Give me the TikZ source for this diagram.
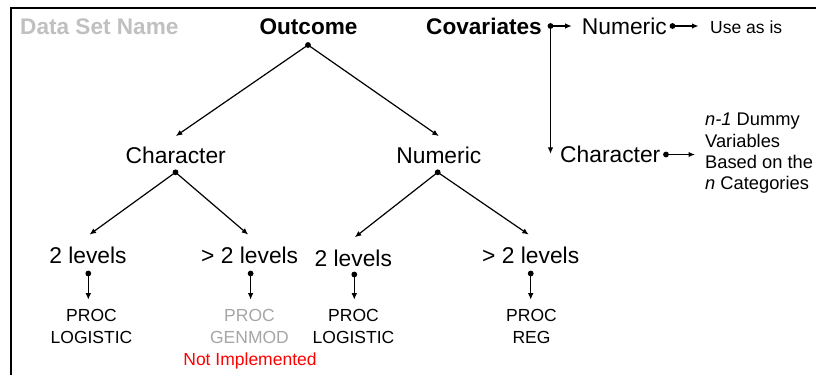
\documentclass[tikz,border=0pt]{standalone}
\usepackage{fontspec}
\setmainfont{Liberation Sans}
\usetikzlibrary{arrows.meta}
\definecolor{lightgr}{HTML}{C0C0C0}
\definecolor{midgr}{HTML}{A6A6A6}
\definecolor{redtxt}{HTML}{FF0000}
\tikzset{
  hb/.style={inner sep=0pt, font=\fontsize{22.6}{27}\selectfont\bfseries},
  hr/.style={inner sep=0pt, font=\fontsize{22.8}{27}\selectfont},
  sm/.style={inner sep=0pt, font=\fontsize{17.5}{21.6}\selectfont, align=center},
  smdummy/.style={inner sep=0pt, font=\fontsize{18.3}{21.4}\selectfont, align=left},
  arr/.style={line width=1.2pt, -{Latex[length=6.5pt,width=5.5pt]}},
  dotc/.style={fill=black},
}
\begin{document}
\begin{tikzpicture}[x=1pt,y=-1pt]
\useasboundingbox (0,0) rectangle (816,375);
% frame
\draw[line width=2pt] (10.5,375) -- (10.5,8.3) -- (816,8.3);

% headings
\node[hb, text=lightgr, anchor=base west] (dsn) at (20,34.3) {Data Set Name};
\node[hb, anchor=base] (outcome) at (308.5,34.5) {Outcome};
\node[hb, anchor=base west] (cov) at (426,34.5) {Covariates};
\node[hr, anchor=base west] (cnum) at (581.7,34.5) {Numeric};
\node[sm, anchor=base west] (asis) at (710,33.3) {Use as is};
\node[hr, anchor=base west] (cchar) at (560,162) {Character};
\node[smdummy, anchor=north west] (dummy) at (705,113) {\textit{n-1} Dummy\\Variables\\Based on the\\\textit{n} Categories};

% tree nodes
\node[hr, anchor=base] (char) at (175.8,163.3) {Character};
\node[hr, anchor=base] (num) at (438.8,163.3) {Numeric};
\node[hr, anchor=base] (lvA) at (88,263.3) {2 levels};
\node[hr, anchor=base] (lvB) at (249.7,263.3) {> 2 levels};
\node[hr, anchor=base] (lvC) at (353.3,266) {2 levels};
\node[hr, anchor=base] (lvD) at (530.7,263.3) {> 2 levels};

\node[sm, anchor=north] (pA) at (91.5,309.2) {PROC\\LOGISTIC};
\node[sm, anchor=north, text=midgr] (pB) at (249.5,309.2) {PROC\\GENMOD};
\node[sm, anchor=base, text=redtxt] (ni) at (250,365) {Not Implemented};
\node[sm, anchor=north] (pC) at (353.5,309.2) {PROC\\LOGISTIC};
\node[sm, anchor=north] (pD) at (531.5,309.2) {PROC\\REG};

% dot positions
\coordinate (od) at (308,45);
\coordinate (chd) at (175.5,172.3);
\coordinate (nmd) at (437.7,172.3);
\coordinate (dA) at (88.3,273.5);
\coordinate (dB) at (250.6,273.5);
\coordinate (dC) at (354.3,274.5);
\coordinate (dD) at (530.7,273.5);
\coordinate (covd) at (550.5,26);
\coordinate (cnd) at (672.5,26);
\coordinate (ccd) at (666,154.5);

\foreach \p in {od,chd,nmd,dA,dB,dC,dD,covd,cnd,ccd}
  \fill[dotc] (\p) circle (2.9pt);

% tree connectors
\draw[arr] (od) -- ([yshift=10.5pt]char.north);
\draw[arr] (od) -- ([yshift=10.5pt]num.north);
\draw[arr] (chd) -- ([yshift=12pt,xshift=1.5pt]lvA.north);
\draw[arr] (chd) -- ([yshift=12pt,xshift=-1.5pt]lvB.north);
\draw[arr] (nmd) -- ([yshift=12pt,xshift=1.5pt]lvC.north);
\draw[arr] (nmd) -- ([yshift=12pt,xshift=-2pt]lvD.north);

\draw[arr, shorten >=9.5pt] (dA) -- (dA |- pA.north);
\draw[arr, shorten >=9.5pt] (dB) -- (dB |- pB.north);
\draw[arr, shorten >=9.5pt] (dC) -- (dC |- pC.north);
\draw[arr, shorten >=9.5pt] (dD) -- (dD |- pD.north);

% covariates connectors
\draw[arr, shorten >=10pt] (covd) -- (covd -| cnum.west);
\draw[arr] (covd) -- (covd |- cchar.west);
\draw[arr, shorten >=11.5pt] (cnd) -- (cnd -| asis.west);
\draw[arr, shorten >=10pt] (ccd) -- (ccd -| dummy.west);
\end{tikzpicture}
\end{document}
